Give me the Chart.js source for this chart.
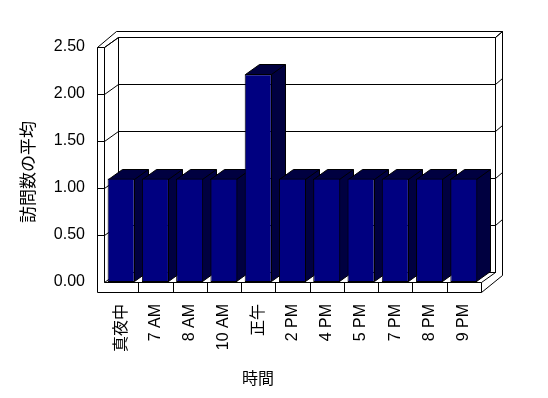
<!DOCTYPE html>
<html>
<head>
<meta charset="utf-8">
<script src="https://cdn.jsdelivr.net/npm/chart.js@4"></script>
<style>
  body { margin: 0; background: #fff; }
  #wrap { width: 548px; height: 398px; }
</style>
</head>
<body>
<div id="wrap"><canvas id="grafico" width="548" height="398"></canvas></div>
<script>
const categories = ['真夜中', '7 AM', '8 AM', '10 AM', '正午', '2 PM', '4 PM', '5 PM', '7 PM', '8 PM', '9 PM'];
const visitAverages = [1.1, 1.1, 1.1, 1.1, 2.21, 1.1, 1.1, 1.1, 1.1, 1.1, 1.1];
const yTicks = [0, 0.5, 1, 1.5, 2, 2.5];
const yTitle = '訪問数の平均';
const xTitle = '時間';

// oblique depth used for the fake 3d look
const DX = 14, DY = -10;

function line(ctx, pts) {
  ctx.beginPath();
  ctx.moveTo(pts[0][0], pts[0][1]);
  for (let i = 1; i < pts.length; i++) ctx.lineTo(pts[i][0], pts[i][1]);
  ctx.stroke();
}

const walls3d = {
  id: 'walls3d',
  beforeDraw(chart) {
    const ctx = chart.ctx;
    const a = chart.chartArea;
    const L = Math.round(a.left) + 0.5, R = Math.round(a.right) + 0.5;
    const T = Math.round(a.top) + 0.5, B = Math.round(a.bottom) + 0.5;
    const OL = L - 7, OR = R + DX + 7, OT = T + DY - 6, FB = B + 10;
    ctx.save();
    ctx.fillStyle = '#fff';
    ctx.fillRect(0, 0, chart.width, chart.height);
    ctx.strokeStyle = '#000';
    ctx.lineWidth = 1;

    // outer outline of the box
    line(ctx, [[OL, FB], [OL, T], [OL + 19, OT], [OR, OT], [OR, B + DY + 3], [R, FB], [OL, FB]]);
    // left wall
    line(ctx, [[OL, T], [L, T], [L, B]]);
    line(ctx, [[L, T], [L + DX, T + DY]]);
    line(ctx, [[L, B], [L + DX, B + DY]]);
    // back wall inner face
    ctx.strokeRect(L + DX, T + DY, R - L, B - T);
    line(ctx, [[R + DX, T + DY], [OR, OT]]);
    // floor
    line(ctx, [[L, B], [R, B], [R, FB]]);
    line(ctx, [[R, B], [R + DX, B + DY]]);
    const xs = chart.scales.x;
    for (let i = 1; i < categories.length; i++) {
      const x = Math.round((xs.getPixelForValue(i - 1) + xs.getPixelForValue(i)) / 2) + 0.5;
      line(ctx, [[x, B], [x, FB]]);
    }
    // grid lines on the walls
    const ys = chart.scales.y;
    yTicks.forEach(v => {
      if (v === 0) return;
      const y = Math.round(ys.getPixelForValue(v)) + 0.5;
      line(ctx, [[OL, y], [L, y], [L + DX, y + DY], [R + DX, y + DY], [OR, y + DY - 6]]);
    });
    ctx.restore();
  },
  beforeDatasetsDraw(chart) {
    // top and side faces of each bar, Chart.js draws the front faces over them
    const ctx = chart.ctx;
    ctx.save();
    ctx.strokeStyle = '#000';
    ctx.fillStyle = '#000040';
    ctx.lineWidth = 1;
    chart.getDatasetMeta(0).data.forEach(el => {
      const p = el.getProps(['x', 'y', 'base', 'width'], true);
      const x0 = Math.round(p.x - p.width / 2) + 0.5, x1 = Math.round(p.x + p.width / 2) - 0.5;
      const y0 = Math.round(p.y) + 0.5, yb = Math.round(p.base) - 0.5;
      ctx.beginPath();
      ctx.moveTo(x0, y0); ctx.lineTo(x0 + DX, y0 + DY); ctx.lineTo(x1 + DX, y0 + DY);
      ctx.lineTo(x1 + DX, yb + DY); ctx.lineTo(x1, yb); ctx.lineTo(x1, y0); ctx.closePath();
      ctx.fill();
      ctx.stroke();
      line(ctx, [[x1, y0], [x1 + DX, y0 + DY]]);
    });
    ctx.restore();
  },
  afterDraw(chart) {
    const ctx = chart.ctx;
    ctx.save();
    ctx.fillStyle = '#000';
    ctx.textAlign = 'center';
    ctx.textBaseline = 'middle';
    ctx.font = '17px "Noto Sans CJK JP", sans-serif';
    ctx.translate(28, 172);
    ctx.rotate(-Math.PI / 2);
    ctx.fillText(yTitle, 0, 0);
    ctx.restore();
    ctx.save();
    ctx.fillStyle = '#000';
    ctx.textAlign = 'center';
    ctx.textBaseline = 'middle';
    ctx.font = '16px "Noto Sans CJK JP", sans-serif';
    ctx.fillText(xTitle, 258, 378);
    ctx.restore();
  }
};

Chart.defaults.font.family = '"Liberation Sans", "Noto Sans CJK JP", sans-serif';
Chart.defaults.font.size = 16;
Chart.defaults.color = '#000';

const grafico = new Chart(document.getElementById('grafico'), {
  type: 'bar',
  data: {
    labels: categories,
    datasets: [{
      label: yTitle,
      data: visitAverages,
      backgroundColor: '#000080',
      borderColor: '#000',
      borderWidth: 1,
      borderSkipped: false,
      categoryPercentage: 1,
      barPercentage: 0.79
    }]
  },
  options: {
    responsive: false,
    animation: false,
    layout: { padding: { top: 47, right: 67, left: 0, bottom: 0 } },
    plugins: { legend: { display: false }, tooltip: { enabled: false } },
    scales: {
      x: {
        grid: { display: false, drawTicks: false },
        border: { display: false },
        ticks: { minRotation: 90, maxRotation: 90, autoSkip: false, padding: 22 },
        afterFit: s => { s.height = 116; }
      },
      y: {
        min: 0,
        max: 2.5,
        grid: { display: false, drawTicks: false },
        border: { display: false },
        afterBuildTicks: s => { s.ticks = yTicks.map(v => ({ value: v })); },
        ticks: { padding: 19, callback: v => Number(v).toFixed(2) },
        afterFit: s => { s.width = 104; }
      }
    }
  },
  plugins: [walls3d]
});
</script>
</body>
</html>
